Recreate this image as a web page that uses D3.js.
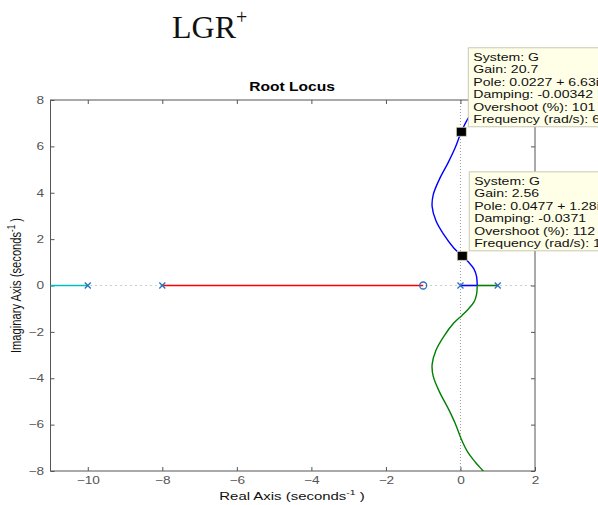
<!DOCTYPE html>
<html>
<head>
<meta charset="utf-8">
<script src="https://cdn.jsdelivr.net/npm/d3@7"></script>
<style>
  body { margin: 0; background: #fff; }
  svg { display: block; }
</style>
</head>
<body>
<svg></svg>
<script>

// poles / zeros of G (real axis)
var poles = [-10, -8, 0, 1];
var zeros = [-1];

// real axis branches [from, to]
var cyanBranch = [-10, -11];
var redBranch = [-8, -1];
var blueReal = [0, 0.45];
var greenReal = [1, 0.45];

// complex branches [re, im]
var blueUpper = [[0.45, 0], [0.43, 0.4], [0.36, 0.72], [0.22, 1.0], [0.0477, 1.28], [-0.18, 1.62],
  [-0.45, 2.2], [-0.66, 2.8], [-0.76, 3.4], [-0.73, 3.92], [-0.56, 4.6], [-0.33, 5.3],
  [-0.14, 5.95], [0.0227, 6.63], [0.2, 7.2], [0.4, 7.62], [0.61, 8.0], [0.72, 8.2]];
var greenLower = [[0.45, 0], [0.43, -0.4], [0.36, -0.72], [0.22, -1.0], [0.0477, -1.28], [-0.18, -1.62],
  [-0.45, -2.2], [-0.66, -2.8], [-0.76, -3.4], [-0.73, -3.92], [-0.56, -4.6], [-0.33, -5.3],
  [-0.14, -5.95], [0.0227, -6.63], [0.2, -7.2], [0.4, -7.62], [0.61, -8.0], [0.72, -8.2]];

var xTicks = [-10, -8, -6, -4, -2, 0, 2];
var yTicks = [-8, -6, -4, -2, 0, 2, 4, 6, 8];

// data tips
var tips = [
  { re: 0.0227, im: 6.63, lines: ["System: G", "Gain: 20.7", "Pole: 0.0227 + 6.63i", "Damping: -0.00342", "Overshoot (%): 101", "Frequency (rad/s): 6.63"] },
  { re: 0.0477, im: 1.28, lines: ["System: G", "Gain: 2.56", "Pole: 0.0477 + 1.28i", "Damping: -0.0371", "Overshoot (%): 112", "Frequency (rad/s): 1.28"] }
];

var width = 598, height = 505;
var plot = { left: 50.5, right: 535, top: 100, bottom: 471 };
var stretch = 1.3; // the sans text is drawn wide

var svg = d3.select("svg")
  .attr("width", width)
  .attr("height", height)
  .style("font-family", "'Liberation Sans', Arial, sans-serif");

var xScale = d3.scaleLinear().domain([-11, 2]).range([plot.left, plot.right]);
var yScale = d3.scaleLinear().domain([-8, 8]).range([plot.bottom, plot.top]);

svg.append("defs").append("clipPath").attr("id", "clip")
  .append("rect")
  .attr("x", plot.left).attr("y", plot.top)
  .attr("width", plot.right - plot.left).attr("height", plot.bottom - plot.top);

// big title
var big = svg.append("text")
  .attr("x", 172).attr("y", 38)
  .style("font-family", "'Liberation Serif', 'Times New Roman', serif")
  .style("font-size", "32px")
  .attr("fill", "#111");
big.append("tspan").text("LGR");
big.append("tspan").attr("dy", -14).style("font-size", "20px").text("+");

// dotted zero lines
svg.append("line")
  .attr("x1", plot.left).attr("x2", plot.right)
  .attr("y1", yScale(0)).attr("y2", yScale(0))
  .attr("stroke", "#9a9a9a").attr("stroke-dasharray", "1,4");
svg.append("line")
  .attr("x1", xScale(0)).attr("x2", xScale(0))
  .attr("y1", plot.top).attr("y2", plot.bottom)
  .attr("stroke", "#9a9a9a").attr("stroke-dasharray", "1,2");

// axes with inside ticks
var axisColor = "#555";
function styleAxis(g) {
  g.select(".domain").remove();
  g.selectAll("line").attr("stroke", axisColor);
  g.selectAll("text").attr("fill", "#555").style("font-size", "10.5px")
    .attr("transform", "scale(" + stretch + ",1)");
}

svg.append("g")
  .attr("transform", "translate(0," + plot.bottom + ")")
  .call(d3.axisBottom(xScale).tickValues(xTicks).tickSizeInner(-4).tickSizeOuter(0).tickPadding(6))
  .call(styleAxis);
svg.append("g")
  .attr("transform", "translate(0," + plot.top + ")")
  .call(d3.axisTop(xScale).tickValues(xTicks).tickSizeInner(-4).tickSizeOuter(0).tickFormat(""))
  .call(styleAxis);
svg.append("g")
  .attr("transform", "translate(" + plot.left + ",0)")
  .call(d3.axisLeft(yScale).tickValues(yTicks).tickSizeInner(-4).tickSizeOuter(0).tickPadding(5))
  .call(styleAxis);
svg.append("g")
  .attr("transform", "translate(" + plot.right + ",0)")
  .call(d3.axisRight(yScale).tickValues(yTicks).tickSizeInner(-4).tickSizeOuter(0).tickFormat(""))
  .call(styleAxis);

svg.append("rect")
  .attr("x", plot.left).attr("y", plot.top)
  .attr("width", plot.right - plot.left).attr("height", plot.bottom - plot.top)
  .attr("fill", "none").attr("stroke", axisColor).attr("stroke-width", 1);

// real axis branches
[[cyanBranch, "#00bfbf"], [redBranch, "#ff0000"], [blueReal, "#0000ff"], [greenReal, "#008000"]]
  .forEach(function(b) {
    svg.append("line")
      .attr("x1", xScale(b[0][0])).attr("x2", xScale(b[0][1]))
      .attr("y1", yScale(0)).attr("y2", yScale(0))
      .style("stroke", b[1])
      .style("stroke-width", 1.6);
  });

// complex branches
var line = d3.line()
  .x(function(d) { return xScale(d[0]); })
  .y(function(d) { return yScale(d[1]); })
  .curve(d3.curveCatmullRom);

var branches = svg.append("g").attr("clip-path", "url(#clip)");
[[blueUpper, "#0000ff"], [greenLower, "#008000"]].forEach(function(b) {
  branches.append("path")
    .datum(b[0])
    .attr("d", line)
    .style("fill", "none")
    .style("stroke", b[1])
    .style("stroke-width", 1.4);
});

// poles (x) and zeros (o)
var markColor = "#2a6fc0";
svg.selectAll(".pole")
  .data(poles)
  .enter().append("path")
  .attr("class", "pole")
  .attr("transform", function(d) { return "translate(" + xScale(d) + "," + yScale(0) + ")"; })
  .attr("d", "M-3,-3L3,3M-3,3L3,-3")
  .style("stroke", markColor).style("stroke-width", 1.3);
svg.selectAll(".zero")
  .data(zeros)
  .enter().append("circle")
  .attr("class", "zero")
  .attr("cx", function(d) { return xScale(d); })
  .attr("cy", yScale(0))
  .attr("r", 3.5)
  .style("fill", "none").style("stroke", markColor).style("stroke-width", 1.3);

// title and labels
svg.append("text")
  .attr("transform", "translate(292,91) scale(" + stretch + ",1)")
  .attr("text-anchor", "middle")
  .style("font-size", "12px").style("font-weight", "bold")
  .text("Root Locus");

var xl = svg.append("text")
  .attr("transform", "translate(292,500) scale(" + stretch + ",1)")
  .attr("text-anchor", "middle")
  .style("font-size", "11.5px").attr("fill", "#111");
xl.append("tspan").text("Real Axis (seconds");
xl.append("tspan").attr("dy", -5).style("font-size", "8px").text("-1");
xl.append("tspan").attr("dy", 5).text(" )");

var yl = svg.append("text")
  .attr("transform", "translate(21," + yScale(0) + ") rotate(-90) scale(1," + stretch + ")")
  .attr("text-anchor", "middle")
  .style("font-size", "11.2px").attr("fill", "#111");
yl.append("tspan").text("Imaginary Axis (seconds");
yl.append("tspan").attr("dy", -5).style("font-size", "8px").text("-1");
yl.append("tspan").attr("dy", 5).text(" )");

// data tips
var tipG = svg.selectAll(".tip")
  .data(tips)
  .enter().append("g")
  .attr("class", "tip");

tipG.append("rect")
  .attr("x", function(d) { return xScale(d.re) + 7; })
  .attr("y", function(d) { return yScale(d.im) - 84; })
  .attr("width", 160).attr("height", 79)
  .attr("fill", "#ffffe8").attr("stroke", "#c8c8b8").attr("stroke-width", 1);

tipG.each(function(d) {
  var g = d3.select(this);
  var x0 = xScale(d.re) + 12;
  var y0 = yScale(d.im) - 71;
  d.lines.forEach(function(t, i) {
    g.append("text")
      .attr("transform", "translate(" + x0 + "," + (y0 + i * 12.5) + ") scale(1.28,1)")
      .style("font-size", "11px")
      .attr("fill", "#111")
      .text(t);
  });
});

tipG.append("rect")
  .attr("x", function(d) { return xScale(d.re) - 5; })
  .attr("y", function(d) { return yScale(d.im) - 4.5; })
  .attr("width", 10).attr("height", 9)
  .attr("fill", "#000").attr("stroke", "#d8d8b0").attr("stroke-width", 0.8);

</script>
</body>
</html>
